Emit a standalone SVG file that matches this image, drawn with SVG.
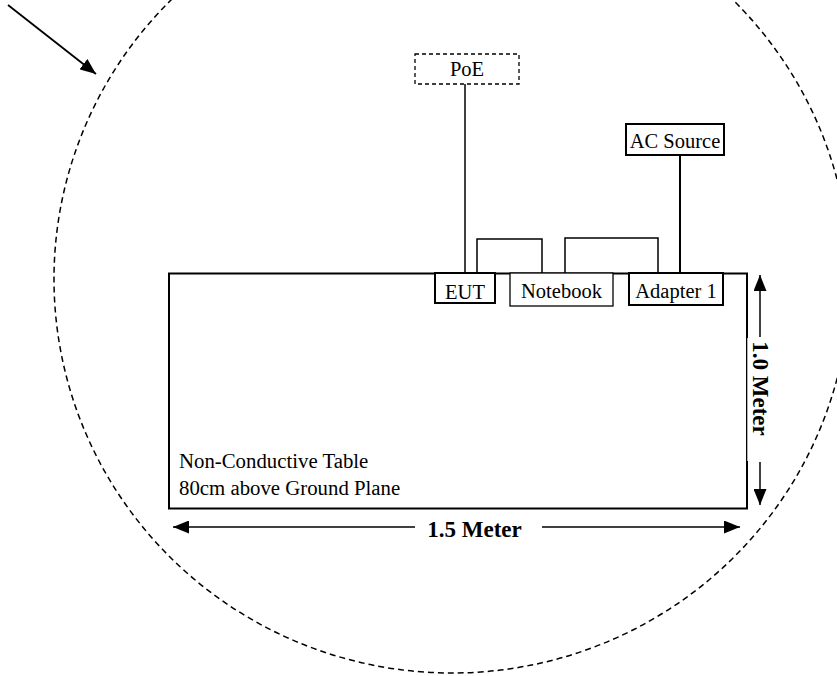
<svg xmlns="http://www.w3.org/2000/svg" width="837" height="676" viewBox="0 0 837 676">
<style>
.t{font-family:"Liberation Serif","Times New Roman",serif;font-size:20.5px;fill:#000;text-anchor:middle}
.tl{font-family:"Liberation Serif","Times New Roman",serif;font-size:20.8px;fill:#000}
.b{font-family:"Liberation Serif","Times New Roman",serif;font-size:23px;font-weight:bold;fill:#000;text-anchor:middle}
.box{fill:#fff;stroke:#000;stroke-width:2}
.thin{fill:#fff;stroke:#000;stroke-width:1.3}
.dash{fill:#fff;stroke:#000;stroke-width:1.3;stroke-dasharray:4 3}
.w{fill:none;stroke:#000;stroke-width:1.5}
.w2{fill:none;stroke:#000;stroke-width:2}
.dim{fill:none;stroke:#000;stroke-width:1.5}
</style>
<defs>
<marker id="ah" markerUnits="userSpaceOnUse" markerWidth="16" markerHeight="13" refX="16" refY="6.5" orient="auto-start-reverse">
<path d="M0,0 L16,6.5 L0,13 z" fill="#000"/>
</marker>
</defs>
<rect width="837" height="676" fill="#fff"/>
<ellipse id="boundary" cx="452" cy="279" rx="398" ry="394" fill="none" stroke="#000" stroke-width="1.5" stroke-dasharray="6 4"/>
<g id="pointer">
<line x1="8" y1="5" x2="96" y2="74" stroke="#000" stroke-width="1.8" marker-end="url(#ah)"/>
</g>
<g id="table">
<rect x="169" y="273.5" width="578" height="235" fill="none" stroke="#000" stroke-width="2"/>
<text class="tl" x="179" y="468">Non-Conductive Table</text>
<text class="tl" x="179" y="495">80cm above Ground Plane</text>
</g>
<g id="connectors">
<line x1="465" y1="84" x2="465" y2="273" class="w" stroke-width="1.3"/>
<line x1="680" y1="155" x2="680" y2="273" class="w2"/>
<path d="M477,273 V239 H542 V273" class="w"/>
<path d="M565,273 V238 H658 V273" class="w"/>
</g>
<g id="poe">
<rect class="dash" x="415" y="54" width="104" height="30"/>
<text class="t" x="467" y="76">PoE</text>
</g>
<g id="ac-source">
<rect class="box" x="626" y="124" width="98" height="31"/>
<text class="t" x="675" y="148">AC Source</text>
</g>
<g id="eut">
<rect class="box" x="435" y="273" width="60" height="30"/>
<text class="t" x="465" y="299">EUT</text>
</g>
<g id="notebook">
<rect class="thin" x="510" y="273" width="103" height="33"/>
<text class="t" x="561.5" y="298">Notebook</text>
</g>
<g id="adapter1">
<rect class="box" x="629" y="273" width="94" height="32"/>
<text class="t" x="676" y="298">Adapter 1</text>
</g>
<g id="dim-width">
<line x1="173" y1="527" x2="415" y2="527" class="dim" marker-start="url(#ah)"/>
<line x1="542" y1="527" x2="740" y2="527" class="dim" marker-end="url(#ah)"/>
<text class="b" x="474.5" y="537">1.5 Meter</text>
</g>
<g id="dim-depth">
<rect x="747.3" y="338" width="24" height="123" fill="#fff"/>
<line x1="760" y1="275" x2="760" y2="337" class="dim" marker-start="url(#ah)"/>
<line x1="760" y1="462" x2="760" y2="505" class="dim" marker-end="url(#ah)"/>
<text class="b" transform="translate(753,388.5) rotate(90)" x="0" y="0">1.0 Meter</text>
</g>
</svg>
